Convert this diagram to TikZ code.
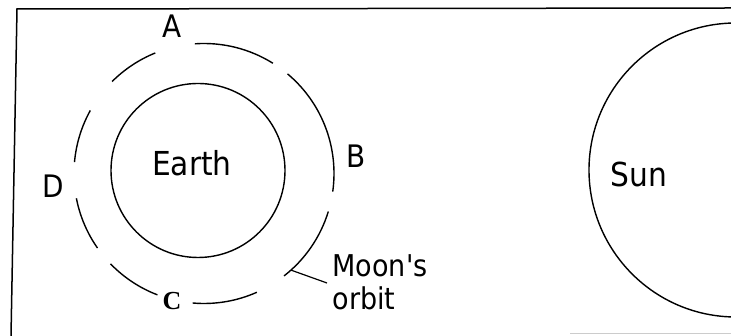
\documentclass[tikz,border=0pt]{standalone}
\usepackage{fontspec}
\setmainfont{DejaVu Sans Condensed}
\newfontfamily\timesfont{Liberation Serif}
\usetikzlibrary{calc,positioning}

\begin{document}
\begin{tikzpicture}[x=1pt,y=1pt,line width=1.4pt,
    lbl/.style={inner sep=0pt,anchor=base,font=\fontsize{31}{34}\selectfont}]
  \useasboundingbox (0,0) rectangle (731,336);
  % frame
  \draw[line width=1.5pt] (11,0) -- (17,327) -- (731,328);
  \draw[gray!40,line width=1pt] (570,2) -- (731,2);
  % earth and the dashed orbit
  \coordinate (orbitc) at (204,162.5);
  \node[circle,draw,minimum size=174pt,inner sep=0pt] (earth) at (198,165.5) {};
  \foreach \a/\b in {58/94,-8/50,-52/-17,-95/-66,-136/-111,-169/-145,151/175,112/135} {
    \draw ($(orbitc)+(\a:130)$) arc[start angle=\a,end angle=\b,radius=130];
  }
  \node[lbl,font=\fontsize{33}{36}\selectfont] (earthlbl) at (192,160) {Earth};
  \node[lbl] (A) at (172,298) {A};
  \node[lbl] (B) at (356,168) {B};
  \node[lbl] (D) at (53,138) {D};
  \node[lbl,font=\timesfont\bfseries\fontsize{26}{30}\selectfont] (C) at (172,26) {C};
  % label for the orbit
  \node[lbl,font=\fontsize{30}{33}\selectfont,anchor=base west] (moonlbl) at (332,59) {Moon\textquotesingle s};
  \node[lbl,font=\fontsize{30}{33}\selectfont,anchor=base west] (orbitlbl) at (332,26) {orbit};
  \coordinate (orbitpt) at ($(orbitc)+(-48:130)$);
  \draw[line width=1.2pt] (orbitpt) -- ($(moonlbl.base west)+(-5,-6)$);
  % sun
  \node[circle,draw,minimum size=294pt,inner sep=0pt] (sun) at (736,166) {};
  \node[lbl,font=\fontsize{33}{36}\selectfont] (sunlbl) at (639,149) {Sun};
\end{tikzpicture}
\end{document}
